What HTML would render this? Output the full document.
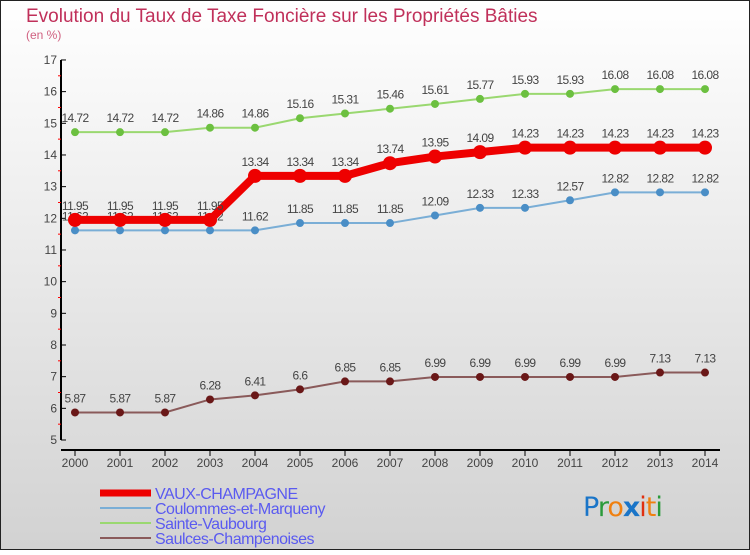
<!DOCTYPE html>
<html><head><meta charset="utf-8"><style>
html,body{margin:0;padding:0}
body{width:750px;height:550px;overflow:hidden;font-family:"Liberation Sans",sans-serif}
</style></head><body>
<svg id="c" width="750" height="550" xmlns="http://www.w3.org/2000/svg">
<defs><linearGradient id="bg" x1="0" y1="0" x2="0" y2="1"><stop offset="0" stop-color="#ffffff"/><stop offset="1" stop-color="#d2d2d2"/></linearGradient></defs>
<rect x="0.5" y="0.5" width="749" height="549" fill="url(#bg)" stroke="#222" stroke-width="1"/>
<text x="26" y="22" font-size="19" fill="#c0305a">Evolution du Taux de Taxe Foncière sur les Propriétés Bâties</text>
<text x="26" y="39" font-size="12" fill="#d06080">(en %)</text>
<g id="axes"></g>
<g id="series"></g>
<g id="legend"></g>
<text x="583" y="516" font-size="27" font-family="'DejaVu Sans',sans-serif" letter-spacing="-1"><tspan fill="#1a75c8">P</tspan><tspan fill="#2a9a3a">r</tspan><tspan fill="#f08010">o</tspan><tspan fill="#1a75c8" font-weight="bold">x</tspan><tspan fill="#e03010">i</tspan><tspan fill="#f08010">t</tspan><tspan fill="#2a9a3a">i</tspan></text>
<script>
const years=[2000,2001,2002,2003,2004,2005,2006,2007,2008,2009,2010,2011,2012,2013,2014];
const seriesNames=["VAUX-CHAMPAGNE","Coulommes-et-Marqueny","Sainte-Vaubourg","Saulces-Champenoises"];
const vaux=[11.95,11.95,11.95,11.95,13.34,13.34,13.34,13.74,13.95,14.09,14.23,14.23,14.23,14.23,14.23];
const coulommes=[11.62,11.62,11.62,11.62,11.62,11.85,11.85,11.85,12.09,12.33,12.33,12.57,12.82,12.82,12.82];
const sainte=[14.72,14.72,14.72,14.86,14.86,15.16,15.31,15.46,15.61,15.77,15.93,15.93,16.08,16.08,16.08];
const saulces=[5.87,5.87,5.87,6.28,6.41,6.6,6.85,6.85,6.99,6.99,6.99,6.99,6.99,7.13,7.13];
const yTicks=[5,6,7,8,9,10,11,12,13,14,15,16,17];
const NS="http://www.w3.org/2000/svg";
const X0=75,XS=45,Y0=440,YS=31.67;
const xs=i=>X0+i*XS, ys=v=>Y0-(v-5)*YS;
function mk(t,a,p){const e=document.createElementNS(NS,t);for(const k in a)e.setAttribute(k,a[k]);p.appendChild(e);return e;}
const ax=document.getElementById('axes');
let l=mk('line',{x1:61,y1:ys(17),x2:61,y2:ys(5),stroke:'#000','stroke-width':2},ax);


l=mk('line',{x1:61,y1:450,x2:720,y2:450,stroke:'#000','stroke-width':2},ax);


yTicks.forEach(v=>{
  mk('line',{x1:61,y1:ys(v),x2:66,y2:ys(v),stroke:'#000'},ax);
  if(v<17)mk('line',{x1:58,y1:ys(v+0.5),x2:61,y2:ys(v+0.5),stroke:'#f00'},ax);
  const t=mk('text',{x:57,y:ys(v)+4,'text-anchor':'end','font-size':12,fill:'#444'},ax);
  
  
  t.textContent=v;
});
years.forEach((y,i)=>{
  mk('line',{x1:xs(i),y1:450,x2:xs(i),y2:456,stroke:'#000'},ax);
  const t=mk('text',{x:xs(i),y:467,'text-anchor':'middle','font-size':12,fill:'#444'},ax);
  
  
  t.textContent=y;
});
const sg=document.getElementById('series');
const defs=[[saulces,'#8a5a5a','#6a1818',2,4,'saulces'],[coulommes,'#7aaed6','#4a8ec6',2,4,'coulommes'],[sainte,'#9ad870','#6cc040',2,4,'sainte'],[vaux,'#ee0000','#ee0000',8,7,'vaux']];
defs.forEach(([d,lc,pc,w,r,n])=>{
  const p=mk('polyline',{points:d.map((v,i)=>xs(i)+','+ys(v)).join(' '),fill:'none',stroke:lc,'stroke-width':w},sg);
  
  
  d.forEach((v,i)=>{
    const c=mk('circle',{cx:xs(i),cy:ys(v),r:r,fill:pc},sg);
    
    
    const t=mk('text',{x:xs(i),y:ys(v)-10,'text-anchor':'middle','font-size':12,fill:'#444','letter-spacing':'-0.6'},sg);
    
    
    t.textContent=v;
  });
});
const lg=document.getElementById('legend');
const lstyle=[['#ee0000',7],['#7aaed6',2],['#9ad870',2],['#8a5a5a',2]];
seriesNames.forEach((n,i)=>{
  const y=493+i*15;
  const g=mk('g',{},lg);
  
  
  mk('line',{x1:100,y1:y,x2:151,y2:y,stroke:lstyle[i][0],'stroke-width':lstyle[i][1]},g);
  const t=mk('text',{x:155,y:y+6,'font-size':16,fill:'#5a5af0','letter-spacing':'-0.5'},g);
  t.textContent=n;
});
</script>
</svg>
</body></html>
